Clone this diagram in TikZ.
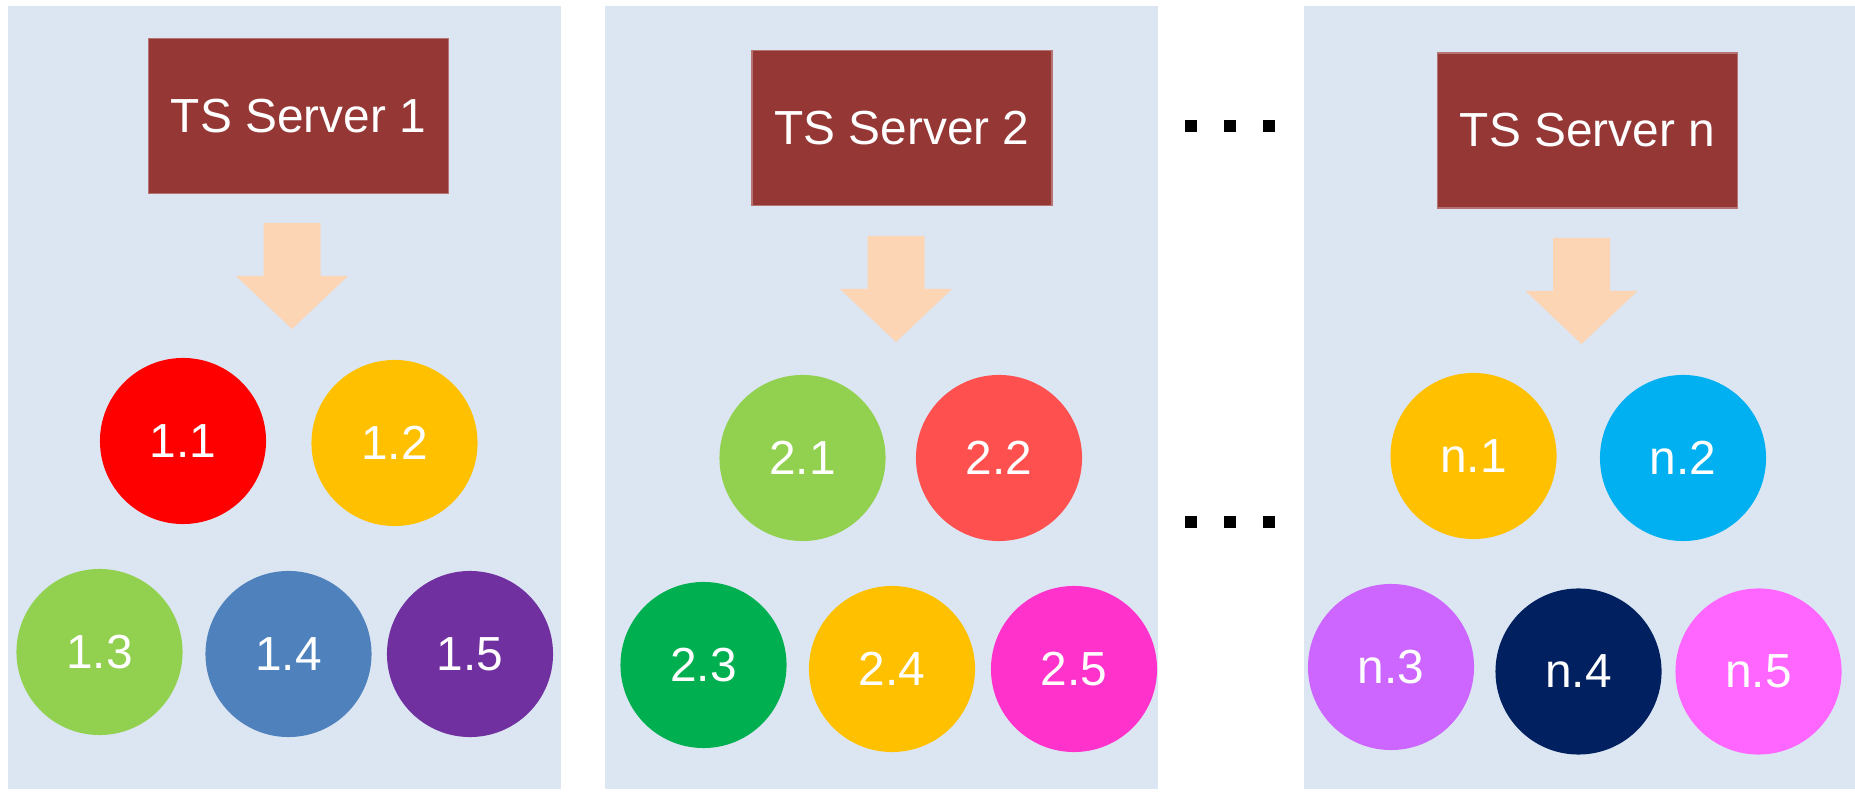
\documentclass[tikz,border=0pt]{standalone}
\usepackage{fontspec}
\setmainfont{Liberation Sans}
\usetikzlibrary{positioning}

\definecolor{panelbg}{HTML}{DCE6F2}
\definecolor{serverred}{HTML}{953735}
\definecolor{arrowpeach}{HTML}{FCD5B5}
\definecolor{cred}{HTML}{FF0000}
\definecolor{camber}{HTML}{FFC000}
\definecolor{clime}{HTML}{92D050}
\definecolor{csteel}{HTML}{4F81BD}
\definecolor{cpurple}{HTML}{7030A0}
\definecolor{csalmon}{HTML}{FF5050}
\definecolor{cgreen}{HTML}{00B050}
\definecolor{cpink}{HTML}{FF33CC}
\definecolor{csky}{HTML}{00B0F0}
\definecolor{clilac}{HTML}{CC66FF}
\definecolor{cnavy}{HTML}{002060}
\definecolor{crose}{HTML}{FF66FF}

\tikzset{
  server/.style={fill=serverred, draw=serverred!70!white, line width=0.4pt,
    minimum width=3cm, minimum height=1.55cm, inner sep=0pt,
    text=white, font=\fontsize{13.6}{16}\selectfont},
  thread/.style={circle, fill=#1, minimum size=1.66cm, inner sep=0pt,
    text=white, font=\fontsize{13.6}{16}\selectfont},
  dot/.style={fill=black, minimum size=0.12cm, inner sep=0pt}
}

\begin{document}
\begin{tikzpicture}[x=0.01cm,y=-0.01cm]
    \useasboundingbox (0,0) rectangle (1855,792);

    % Panels
    \fill[panelbg] (8,6) rectangle (561,789);
    \fill[panelbg] (604.5,6) rectangle (1157.5,789);
    \fill[panelbg] (1304,6) rectangle (1855,789);

    % Servers
    \node[server] (srv1) at (298.5,116) {TS Server 1};
    \node[server] (srv2) at (902,128) {TS Server 2};
    \node[server] (srvn) at (1587.5,130.5) {TS Server n};

    % Block arrows below the servers
    \fill[arrowpeach] (263.5,223) -- ++(57,0) -- ++(0,53) -- ++(27.5,0) -- ++(-56,53) -- ++(-56,-53) -- ++(27.5,0) -- cycle;
    \fill[arrowpeach] (867.5,236) -- ++(57,0) -- ++(0,53) -- ++(27.5,0) -- ++(-56,53) -- ++(-56,-53) -- ++(27.5,0) -- cycle;
    \fill[arrowpeach] (1553,238) -- ++(57,0) -- ++(0,53) -- ++(27.5,0) -- ++(-56,53) -- ++(-56,-53) -- ++(27.5,0) -- cycle;

    % Threads of server 1
    \node[thread=cred] (t11) at (183,441) {1.1};
    \node[thread=camber] (t12) at (394.5,443) {1.2};
    \node[thread=clime] (t13) at (99.5,652) {1.3};
    \node[thread=csteel] (t14) at (288.5,654) {1.4};
    \node[thread=cpurple] (t15) at (470,654) {1.5};

    % Threads of server 2
    \node[thread=clime] (t21) at (802.5,458) {2.1};
    \node[thread=csalmon] (t22) at (999,458) {2.2};
    \node[thread=cgreen] (t23) at (703.5,665) {2.3};
    \node[thread=camber] (t24) at (892,669) {2.4};
    \node[thread=cpink] (t25) at (1074,669) {2.5};

    % Threads of server n
    \node[thread=camber] (tn1) at (1473.5,456) {n.1};
    \node[thread=csky] (tn2) at (1683,458) {n.2};
    \node[thread=clilac] (tn3) at (1391,667) {n.3};
    \node[thread=cnavy] (tn4) at (1578.5,671.5) {n.4};
    \node[thread=crose] (tn5) at (1758.5,671.5) {n.5};

    % Ellipsis dots between the panels
    \node[dot] (da1) at (1191,126.5) {};
    \node[dot] (da2) at (1230,126.5) {};
    \node[dot] (da3) at (1268.5,126.5) {};
    \node[dot] (db1) at (1191,522) {};
    \node[dot] (db2) at (1230,522) {};
    \node[dot] (db3) at (1268.5,522) {};
\end{tikzpicture}
\end{document}
